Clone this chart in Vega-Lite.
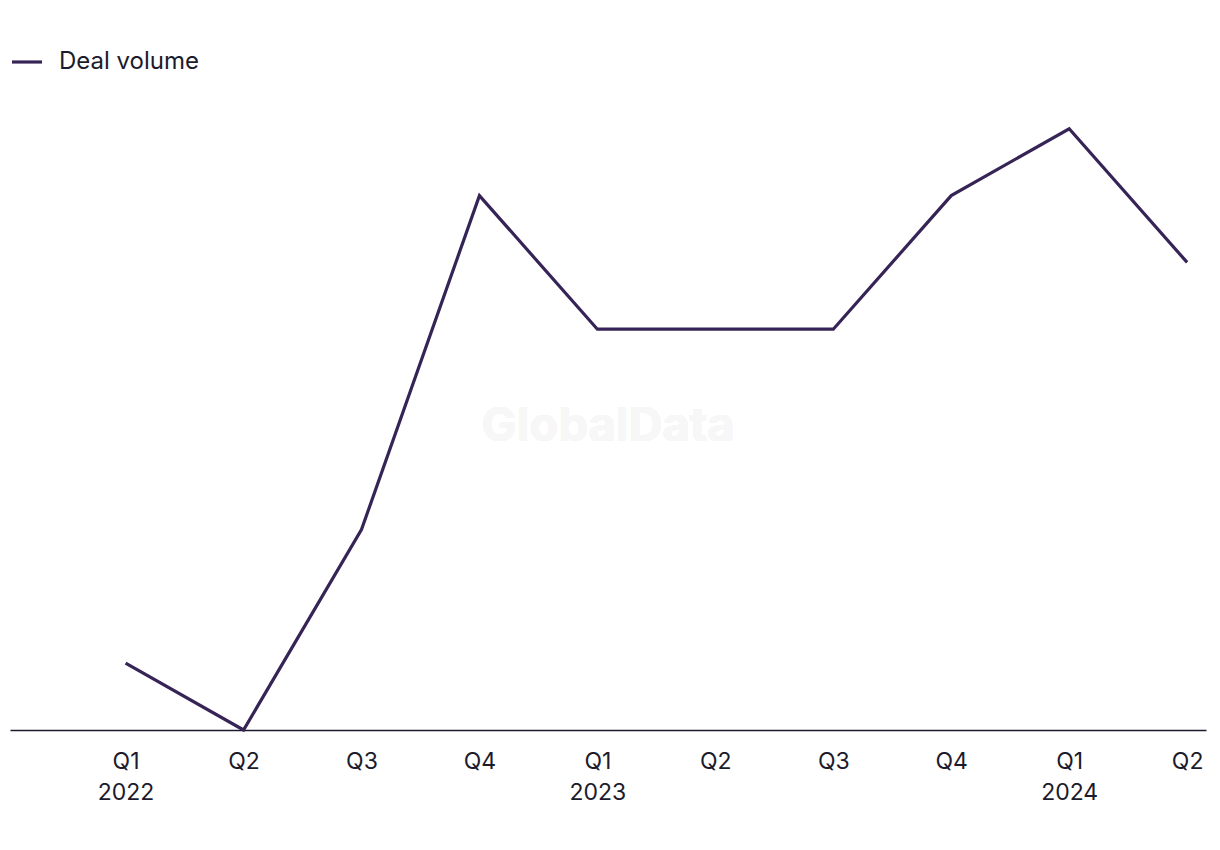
{
  "$schema": "https://vega.github.io/schema/vega-lite/v6.json",
  "width": 1196,
  "height": 668,
  "autosize": "none",
  "padding": {"left": 10, "top": 62, "right": 14, "bottom": 120},
  "background": "white",
  "config": {
    "view": {"stroke": null},
    "font": "Inter",
    "text": {"font": "Inter"}
  },
  "data": {
    "values": [
      {"idx": 1, "quarter": "Q1 2022", "series": "Deal volume", "deals": 1},
      {"idx": 2, "quarter": "Q2 2022", "series": "Deal volume", "deals": 0},
      {"idx": 3, "quarter": "Q3 2022", "series": "Deal volume", "deals": 3},
      {"idx": 4, "quarter": "Q4 2022", "series": "Deal volume", "deals": 8},
      {"idx": 5, "quarter": "Q1 2023", "series": "Deal volume", "deals": 6},
      {"idx": 6, "quarter": "Q2 2023", "series": "Deal volume", "deals": 6},
      {"idx": 7, "quarter": "Q3 2023", "series": "Deal volume", "deals": 6},
      {"idx": 8, "quarter": "Q4 2023", "series": "Deal volume", "deals": 8},
      {"idx": 9, "quarter": "Q1 2024", "series": "Deal volume", "deals": 9},
      {"idx": 10, "quarter": "Q2 2024", "series": "Deal volume", "deals": 7}
    ]
  },
  "layer": [
    {
      "mark": {"type": "line", "strokeWidth": 3.2, "strokeJoin": "miter"},
      "encoding": {
        "x": {
          "field": "idx",
          "type": "quantitative",
          "scale": {"domain": [0.02, 10.16], "nice": false, "zero": false},
          "axis": {
            "title": null,
            "grid": false,
            "ticks": false,
            "values": [1, 2, 3, 4, 5, 6, 7, 8, 9, 10],
            "labelExpr": "[[''], ['Q1', '2022'], ['Q2'], ['Q3'], ['Q4'], ['Q1', '2023'], ['Q2'], ['Q3'], ['Q4'], ['Q1', '2024'], ['Q2']][datum.value]",
            "labelFontSize": 23,
            "labelLineHeight": 31,
            "labelColor": "#1c1b2b",
            "labelPadding": 20,
            "labelFont": "Inter",
            "labelFlush": false,
            "labelOverlap": false,
            "domainColor": "#1c1b2b",
            "domainWidth": 1.6
          }
        },
        "y": {
          "field": "deals",
          "type": "quantitative",
          "scale": {"domain": [0, 10], "nice": false},
          "axis": null
        },
        "color": {
          "field": "series",
          "type": "nominal",
          "scale": {"domain": ["Deal volume"], "range": ["#362456"]},
          "legend": {
            "title": null,
            "orient": "none",
            "legendX": 0,
            "legendY": -17,
            "padding": 0,
            "symbolType": "stroke",
            "symbolSize": 900,
            "symbolStrokeWidth": 3.2,
            "labelFontSize": 24,
            "labelFont": "Inter",
            "labelColor": "#1c1b2b",
            "labelOffset": 15
          }
        }
      }
    },
    {
      "mark": {"type": "text", "text": "GlobalData", "fontSize": 47, "fontWeight": "bold", "color": "#f7f7f7", "font": "Inter"},
      "encoding": {
        "x": {"datum": 5.09},
        "y": {"datum": 4.54}
      }
    }
  ]
}
